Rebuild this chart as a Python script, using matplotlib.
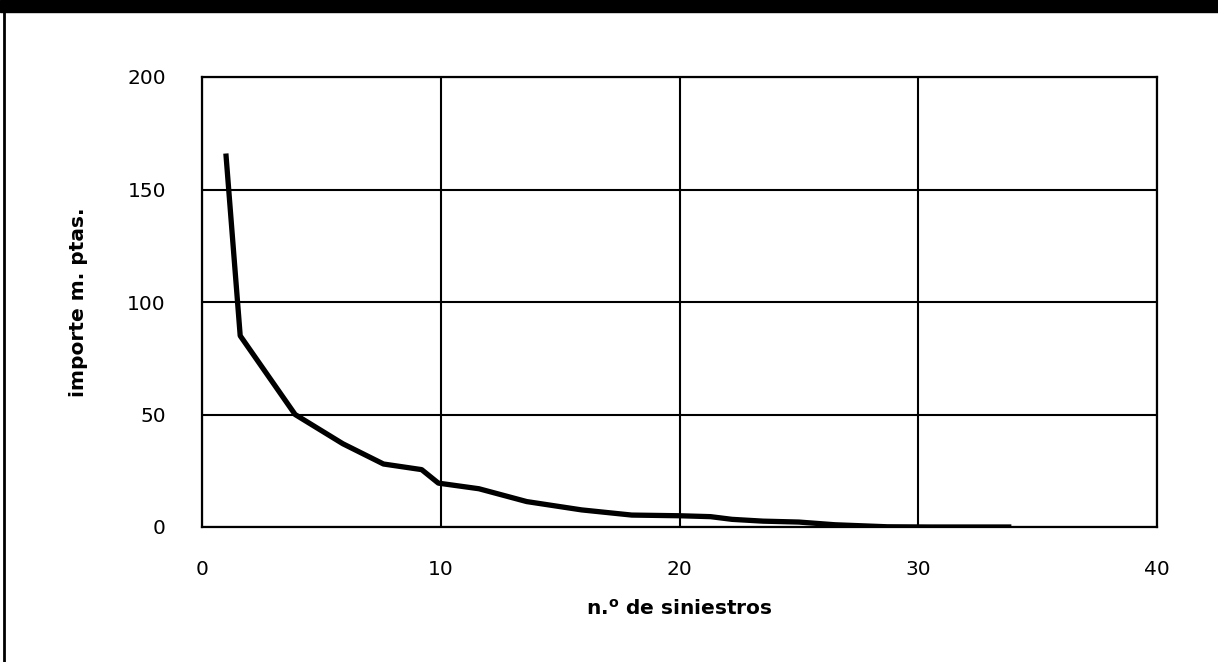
import matplotlib
matplotlib.use("Agg")
import matplotlib.pyplot as plt
from matplotlib.lines import Line2D
from matplotlib.patches import Rectangle

# data
n_siniestros = [1.0, 1.6, 3.9, 5.9, 7.6, 9.2, 9.9, 11.6, 13.6, 15.9, 18.0, 20.0,
                21.3, 22.2, 23.5, 25.0, 26.5, 28.7, 30.5, 33.9]
importe = [166, 85, 50, 37, 28, 25.5, 19.5, 17, 11.3, 7.6, 5.3, 5.0,
           4.6, 3.4, 2.6, 2.2, 1.0, 0.1, 0.0, 0.0]
x_ticks = [0, 10, 20, 30, 40]
y_ticks = [0, 50, 100, 150, 200]
x_label = "n.$^{\\mathbf{o}}$ de siniestros"
y_label = "importe m. ptas."

plt.rcParams['font.family'] = ['DejaVu Sans']

fig = plt.figure(figsize=(12.18, 6.62), dpi=100)
ax = fig.add_axes([202/1218, 1-527/662, (1157-202)/1218, (527-77)/662])

ax.plot(n_siniestros, importe, color='black', lw=3.8, solid_joinstyle='round',
        solid_capstyle='butt', zorder=3)

ax.set_xlim(0, 40)
ax.set_ylim(0, 200)
ax.set_xticks(x_ticks)
ax.set_yticks(y_ticks)
ax.grid(True, color='black', lw=1.5)
for s in ax.spines.values():
    s.set_linewidth(1.6)
    s.set_color('black')
ax.tick_params(length=0, labelsize=14.5, colors='black')
ax.tick_params(axis='x', pad=24)
ax.tick_params(axis='y', pad=26)

ax.set_xlabel(x_label, fontsize=14.5, fontweight='bold', labelpad=14)
ax.set_ylabel(y_label, fontsize=14.5, fontweight='bold', labelpad=28)

# page decorations: black band at top and left frame line
fig.patches.append(Rectangle((0, 1-12/662), 1, 12/662, transform=fig.transFigure,
                             color='black', zorder=0))
fig.lines.append(Line2D([4/1218, 4/1218], [0, 1-12/662], transform=fig.transFigure,
                        color='black', lw=2))

fig.savefig("out.png", dpi=100)
